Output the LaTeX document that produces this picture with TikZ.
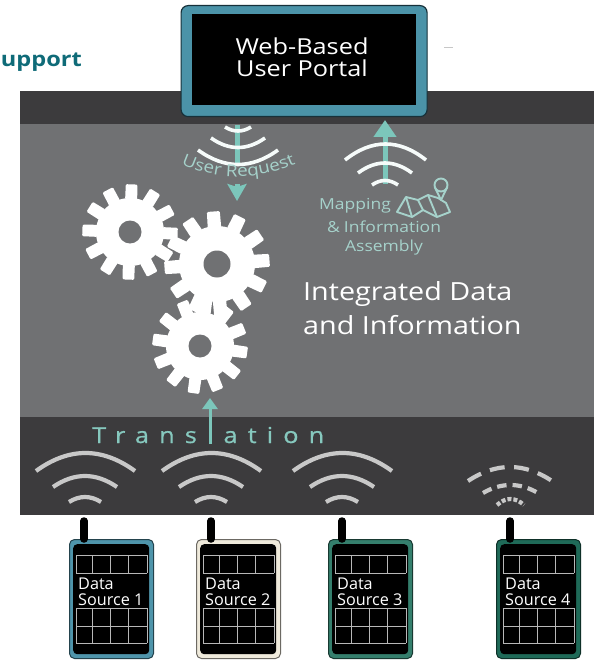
\documentclass[tikz,border=0pt]{standalone}
\usepackage{fontspec}
\setmainfont{Open Sans}
\newfontfamily\widefont[FakeStretch=1.15]{Open Sans}
\newfontfamily\spacedfont[FakeStretch=1.15,LetterSpace=46,FakeBold=0.7]{Open Sans}
\usetikzlibrary{arrows.meta,decorations.text,calc}
\definecolor{midgray}{HTML}{707173}
\definecolor{darkband}{HTML}{3C3B3D}
\definecolor{wifigray}{HTML}{C8C8C8}
\definecolor{tealarrow}{HTML}{7CC6BB}
\definecolor{tealtext}{HTML}{A6D2CB}
\definecolor{transteal}{HTML}{86C8BE}
\definecolor{portalblue}{HTML}{4B93A8}
\definecolor{portaledge}{HTML}{17313A}
\definecolor{headteal}{HTML}{0F6B78}
\definecolor{dsblue}{HTML}{4F95AB}
\definecolor{dscream}{HTML}{EFEADB}
\definecolor{dsgreen}{HTML}{357F6D}
\definecolor{dsdeep}{HTML}{1F6A58}
\tikzset{
  x=1pt,y=-1pt,
  band/.style={draw=none,inner sep=0pt,anchor=north west},
  wave/.style={draw=wifigray,line width=4.2pt},
  whitewave/.style={draw=white!93!tealarrow,line width=3.6pt},
  tealshaft/.style={draw=tealarrow,line width=5pt},
  tealhead/.style={tealshaft,-{Triangle[width=22pt,length=17pt]}},
  antenna/.style={draw=black,line width=7.5pt,line cap=round},
  dsbody/.style={draw=#1!45!black,fill=#1,line width=1pt,rounded corners=5pt,inner sep=0pt,minimum width=84pt,minimum height=119pt,anchor=north west},
  dsscreen/.style={fill=black,rounded corners=4pt,inner sep=0pt,minimum width=76pt,minimum height=110pt,anchor=north west},
  gridline/.style={draw=white!72!black,line width=.7pt},
  dstext/.style={text=white,font=\fontsize{16.2}{16.2}\selectfont,inner sep=0pt,anchor=base west},
  tealtxt/.style={text=tealtext,font=\widefont\fontsize{15.2}{15.2}\selectfont,inner sep=0pt},
  mainlabel/.style={text=white,font=\widefont\fontsize{25}{25}\selectfont,inner sep=0pt,anchor=base west},
  portallabel/.style={text=white,font=\widefont\fontsize{22}{22}\selectfont,inner sep=0pt,anchor=base},
  mapline/.style={draw=tealtext,line width=1.9pt,line join=round},
}
% #1 style, (x0,y0)--(x1,y0), depth #5 (positive: bulges upward)
\newcommand{\wavearc}[5]{%
  \draw[#1] (#2,#4) .. controls ({#2+(#3-#2)/3},{#4-4*(#5)/3}) and ({#3-(#3-#2)/3},{#4-4*(#5)/3}) .. (#3,#4);}
\newcommand{\mygear}[5]{% x y outer root hole
  \begin{scope}[shift={(#1,#2)}]
    \fill[white] (0,0) circle ({#4});
    \foreach \k in {0,...,11}{
      \pgfmathsetmacro{\a}{-(#5)+30*\k}
      \fill[white,rounded corners=1.2pt] (\a-10.5:#4-1) -- (\a-7:#3) -- (\a+7:#3) -- (\a+10.5:#4-1) -- cycle;
    }
  \end{scope}}
\newcommand{\mywaves}[1]{%
  \begin{scope}[shift={(#1,0)}]
    \wavearc{wave}{-49}{50}{471}{18}
    \wavearc{wave}{-32}{32}{487}{11}
    \wavearc{wave}{-16}{16}{502}{5}
  \end{scope}}
\newcommand{\mydevice}[4]{% name left colour number
  \node[dsbody=#3] (ds#1) at (#2,539) {};
  \node[dsscreen] (scr#1) at (#2+4,544) {};
  \begin{scope}[shift={(#2,0)}]
    \foreach \yy in {555,573,608,626,643} \draw[gridline] (7,\yy) -- (78,\yy);
    \foreach \xx in {7,23,41,59,78} {\draw[gridline] (\xx,555) -- (\xx,573); \draw[gridline] (\xx,608) -- (\xx,643);}
  \end{scope}
  \node[dstext] (dsa#1) at (#2+9,589) {Data};
  \node[dstext] (dsb#1) at (#2+9,605) {Source #4};}
\begin{document}
\begin{tikzpicture}
\useasboundingbox (0,0) rectangle (600,660);
\fill[white] (0,0) rectangle (600,660);
% panel
\node[band,fill=darkband,minimum width=574pt,minimum height=33pt] (topband) at (20,91) {};
\node[band,fill=midgray,minimum width=574pt,minimum height=293pt] (midband) at (20,124) {};
\node[band,fill=darkband,minimum width=574pt,minimum height=98pt] (botband) at (20,417) {};
% heading
\node[text=headteal,font=\widefont\bfseries\fontsize{20.5}{20.5}\selectfont,inner sep=0pt,anchor=base east] (support) at (82,67) {upport};
\coordinate (speckA) at (444,48); \coordinate (speckB) at (453,48);
\draw[draw=black!22,line width=1pt] (speckA) -- (speckB);
% portal
\node[band,fill=portalblue,draw=portaledge,line width=1.2pt,rounded corners=7pt,minimum width=246pt,minimum height=111pt] (portal) at (180.5,5) {};
\node[band,fill=black,minimum width=224pt,minimum height=91pt] (screen) at (192,14) {};
\node[portallabel] (weblabel) at (302,55) {Web-Based};
\node[portallabel] (userlabel) at (302,77) {User Portal};
% user request
\coordinate (reqTop) at (237,125); \coordinate (reqMid) at (237,164);
\coordinate (reqHeadA) at (237,184); \coordinate (reqHeadB) at (237,201);
\draw[tealshaft] (reqTop) -- (reqMid);
\draw[draw=tealarrow,line width=5pt,-{Stealth[width=19pt,length=17pt,inset=3pt]}] (reqHeadA) -- (reqHeadB);
\wavearc{whitewave}{225}{251}{127}{-4}
\wavearc{whitewave}{211}{265}{138}{-9.5}
\wavearc{whitewave}{198}{278}{150}{-14.5}
\path[postaction={decorate,decoration={text along path,text align=center,text={|\widefont\fontsize{16.5}{16.5}\selectfont\color{tealtext}|User Request}}}] (179,163) .. controls (218,181) and (258,181) .. (298,163);
% mapping
\coordinate (mapBot) at (385,184); \coordinate (mapTop) at (385,120);
\draw[tealhead] (mapBot) -- (mapTop);
\wavearc{whitewave}{345}{426}{160}{16}
\wavearc{whitewave}{358}{412}{173}{10}
\wavearc{whitewave}{372}{398}{185}{4.5}
\node[tealtxt,anchor=base west] (mappinglabel) at (319,209) {Mapping};
\node[tealtxt,anchor=base west] (infolabel) at (327,233) {\&\hspace{4pt}Information};
\node[tealtxt,anchor=base] (assemblylabel) at (384,251) {Assembly};
% map icon
\draw[mapline] (397,212) -- (406,197) -- (418,200) -- (428,195) -- (438,198) -- (446,203) -- (450,212) -- (437,217) -- (423,210) -- (412,217) -- cycle;
\draw[mapline] (406,197) -- (412,217) (418,200) -- (423,210) (428,195) -- (437,217);
\fill[midgray] (441,185) circle (9);
\draw[mapline] (441,185) circle (6.5);
\draw[mapline] (434.7,187) -- (441,200) -- (447.3,187);
% gears
\mygear{130}{232}{48}{34}{88}
\mygear{217}{264}{53}{38}{94}
\mygear{200}{346}{48}{34}{82}
\fill[midgray] (130,232) circle (11.5);
\fill[midgray] (217,264) circle (13.5);
\fill[midgray] (200,346) circle (11.5);
% main label
\node[mainlabel] (intlabel) at (303,300) {Integrated Data};
\node[mainlabel] (andlabel) at (303,334) {and Information};
% translation
\node[text=transteal,font=\spacedfont\fontsize{22}{22}\selectfont,inner sep=0pt,anchor=base west] (translabel) at (92,443) {Translation};
\coordinate (transBot) at (210,444); \coordinate (transTop) at (210,398);
\draw[draw=tealarrow,line width=3pt,-{Triangle[width=15pt,length=11pt]}] (transBot) -- (transTop);
% waves
\mywaves{85}
\mywaves{211}
\mywaves{342}
\begin{scope}[shift={(510,0)}]
  \wavearc{wave,dash pattern=on 15pt off 9.5pt}{-42}{42}{481}{14}
  \wavearc{wave,dash pattern=on 9.5pt off 6pt}{-27}{28}{493}{8}
  \wavearc{wave,dash pattern=on 4pt off 2pt}{-13}{14}{505}{6}
\end{scope}
% sources
\mydevice{1}{69}{dsblue}{1}
\mydevice{2}{196}{dscream}{2}
\mydevice{3}{328}{dsgreen}{3}
\mydevice{4}{496}{dsdeep}{4}
\coordinate (ant1) at (84,521); \coordinate (ant2) at (211,521); \coordinate (ant3) at (342,521); \coordinate (ant4) at (510,521);
\foreach \n in {1,2,3,4} \draw[antenna] (ant\n) -- (ant\n |- ds\n.north);
\end{tikzpicture}
\end{document}
